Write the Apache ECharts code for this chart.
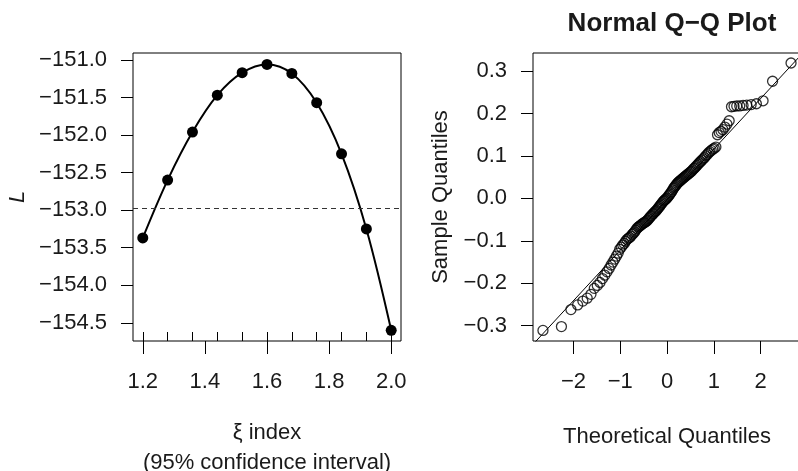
<!DOCTYPE html>
<html><head><meta charset="utf-8">
<script src="https://cdn.jsdelivr.net/npm/echarts@6/dist/echarts.min.js"></script>
<style>html,body{margin:0;padding:0;background:#fff}#c{width:798px;height:471px}</style>
</head><body><div id="c"></div>
<script>
// ---- Left panel: profile log-likelihood vs xi index ----
const xiIndex = [1.20, 1.28, 1.36, 1.44, 1.52, 1.60, 1.68, 1.76, 1.84, 1.92, 2.00];
const logLik  = [-153.37, -152.60, -151.96, -151.47, -151.17, -151.06, -151.18, -151.57, -152.25, -153.25, -154.60];
const ciLevel = -152.98;
const leftXTicks = [1.2, 1.4, 1.6, 1.8, 2.0];
const leftYTicks = [-154.5, -154.0, -153.5, -153.0, -152.5, -152.0, -151.5, -151.0];

// ---- Right panel: normal Q-Q plot ----
const theoQ = [-2.652,-2.257,-2.054,-1.911,-1.799,-1.706,-1.626,-1.555,-1.491,-1.433,-1.379,-1.329,-1.282,-1.237,-1.195,-1.155,-1.117,-1.080,-1.045,-1.011,-0.978,-0.946,-0.915,-0.885,-0.856,-0.827,-0.800,-0.772,-0.745,-0.719,-0.693,-0.668,-0.643,-0.619,-0.595,-0.571,-0.548,-0.524,-0.502,-0.479,-0.457,-0.434,-0.412,-0.391,-0.369,-0.348,-0.327,-0.305,-0.285,-0.264,-0.243,-0.223,-0.202,-0.182,-0.161,-0.141,-0.121,-0.100,-0.080,-0.060,-0.040,-0.020,
 0,
 0.020,0.040,0.060,0.080,0.100,0.121,0.141,0.161,0.182,0.202,0.223,0.243,0.264,0.285,0.305,0.327,0.348,0.369,0.391,0.412,0.434,0.457,0.479,0.502,0.524,0.548,0.571,0.595,0.619,0.643,0.668,0.693,0.719,0.745,0.772,0.800,0.827,0.856,0.885,0.915,0.946,0.978,1.011,1.045,1.080,1.117,1.155,1.195,1.237,1.282,1.329,1.379,1.433,1.491,1.555,1.626,1.706,1.799,1.911,2.054,2.257,2.652];
const sampleQ = [-0.311,-0.302,-0.262,-0.251,-0.242,-0.235,-0.226,-0.212,-0.205,-0.198,-0.189,-0.181,-0.173,-0.165,-0.157,-0.150,-0.143,-0.136,-0.129,-0.120,-0.115,-0.110,-0.106,-0.101,-0.097,-0.094,-0.092,-0.089,-0.085,-0.082,-0.079,-0.075,-0.071,-0.068,-0.066,-0.064,-0.062,-0.060,-0.058,-0.057,-0.055,-0.053,-0.051,-0.048,-0.045,-0.042,-0.040,-0.037,-0.035,-0.032,-0.030,-0.028,-0.025,-0.022,-0.019,-0.016,-0.013,-0.010,-0.007,-0.005,-0.003,-0.001,
 0.001,
 0.004,0.007,0.010,0.013,0.016,0.020,0.024,0.027,0.030,0.033,0.036,0.038,0.040,0.042,0.044,0.046,0.048,0.050,0.052,0.054,0.056,0.058,0.060,0.062,0.064,0.067,0.070,0.072,0.075,0.078,0.081,0.084,0.087,0.090,0.093,0.096,0.100,0.103,0.107,0.110,0.113,0.116,0.118,0.121,0.150,0.155,0.158,0.162,0.168,0.175,0.183,0.216,0.217,0.218,0.218,0.219,0.220,0.221,0.223,0.230,0.276,0.319];
const qqLineIntercept = -0.003;
const qqLineSlope = 0.119;
const qqLineX = [-3.0, 3.0];
const rightXTicks = [-2, -1, 0, 1, 2];
const rightYTicks = [-0.3, -0.2, -0.1, 0.0, 0.1, 0.2, 0.3];

const FONT = 'Liberation Sans, Arial, Helvetica, sans-serif';
const TXT = '#1a1a1a';
const FS = 22;
const neg = s => s.replace('-', '\u2212');

const chart = echarts.init(document.getElementById('c'), null, {renderer: 'canvas'});

function valAxis(opts) {
  return Object.assign({
    type: 'value',
    splitLine: {show: false},
    axisLine: {show: false, onZero: false},
    nameTextStyle: {color: TXT, fontFamily: FONT, fontSize: FS}
  }, opts);
}
function lbl(margin, vals, fmt) {
  return {color: TXT, fontFamily: FONT, fontSize: FS, margin: margin, customValues: vals, formatter: fmt};
}
function tick(len, vals, inside) {
  return {show: true, length: len, inside: !!inside, customValues: vals, lineStyle: {color: '#000', width: 1}};
}

const option = {
  animation: false,
  backgroundColor: '#fff',
  title: {
    text: 'Normal Q\u2212Q Plot',
    left: 667, top: 6, textAlign: 'center',
    textStyle: {fontFamily: FONT, fontWeight: 'bold', fontSize: 26, color: TXT}
  },
  grid: [
    {left: 133, top: 53, width: 268, height: 288, show: true, borderColor: '#000', borderWidth: 1,
     backgroundColor: 'transparent', containLabel: false, outerBoundsMode: 'none'},
    {left: 533, top: 53, width: 268, height: 288, show: true, borderColor: '#000', borderWidth: 1,
     backgroundColor: 'transparent', containLabel: false, outerBoundsMode: 'none'}
  ],
  xAxis: [
    valAxis({gridIndex: 0, min: 1.1685, max: 2.0315,
      name: '\u03be index\n(95% confidence interval)', nameLocation: 'middle', nameGap: 77,
      nameTextStyle: {color: TXT, fontFamily: FONT, fontSize: FS, lineHeight: 30},
      axisTick: tick(13, leftXTicks),
      axisLabel: lbl(30, leftXTicks, v => v.toFixed(1))}),
    valAxis({gridIndex: 0, min: 1.1685, max: 2.0315, position: 'bottom',
      axisTick: tick(9, xiIndex, true),
      axisLabel: {show: false}}),
    valAxis({gridIndex: 1, min: -2.865, max: 2.865,
      name: 'Theoretical Quantiles', nameLocation: 'middle', nameGap: 85,
      axisTick: tick(13, rightXTicks),
      axisLabel: lbl(30, rightXTicks, v => neg(v.toFixed(0)))})
  ],
  yAxis: [
    valAxis({gridIndex: 0, min: -154.742, max: -150.908,
      name: 'L', nameLocation: 'middle', nameRotate: 90, nameGap: 104,
      nameTextStyle: {color: TXT, fontFamily: FONT, fontSize: FS, fontStyle: 'italic'},
      axisTick: tick(12, leftYTicks),
      axisLabel: lbl(26, leftYTicks, v => neg(v.toFixed(1)))}),
    valAxis({gridIndex: 1, min: -0.336, max: 0.3426,
      name: 'Sample Quantiles', nameLocation: 'middle', nameRotate: 90, nameGap: 81,
      axisTick: tick(12, rightYTicks),
      axisLabel: lbl(26, rightYTicks, v => neg(v.toFixed(1)))})
  ],
  series: [
    {
      type: 'line', xAxisIndex: 0, yAxisIndex: 0,
      data: xiIndex.map((x, i) => [x, logLik[i]]),
      smooth: 0.35,
      symbol: 'circle', symbolSize: 11, showSymbol: true,
      itemStyle: {color: '#000'},
      lineStyle: {color: '#000', width: 2},
      markLine: {
        silent: true, symbol: ['none', 'none'], label: {show: false},
        lineStyle: {color: '#333', type: [5, 4], width: 1},
        data: [{yAxis: ciLevel}]
      }
    },
    {
      type: 'line', xAxisIndex: 2, yAxisIndex: 1,
      data: qqLineX.map(x => [x, qqLineIntercept + qqLineSlope * x]),
      symbol: 'none', clip: true,
      lineStyle: {color: '#000', width: 1}
    },
    {
      type: 'scatter', xAxisIndex: 2, yAxisIndex: 1,
      data: theoQ.map((x, i) => [x, sampleQ[i]]),
      symbol: 'circle', symbolSize: 10,
      itemStyle: {color: 'rgba(0,0,0,0)', borderColor: '#000', borderWidth: 1.3}
    }
  ]
};
chart.setOption(option);
</script></body></html>
